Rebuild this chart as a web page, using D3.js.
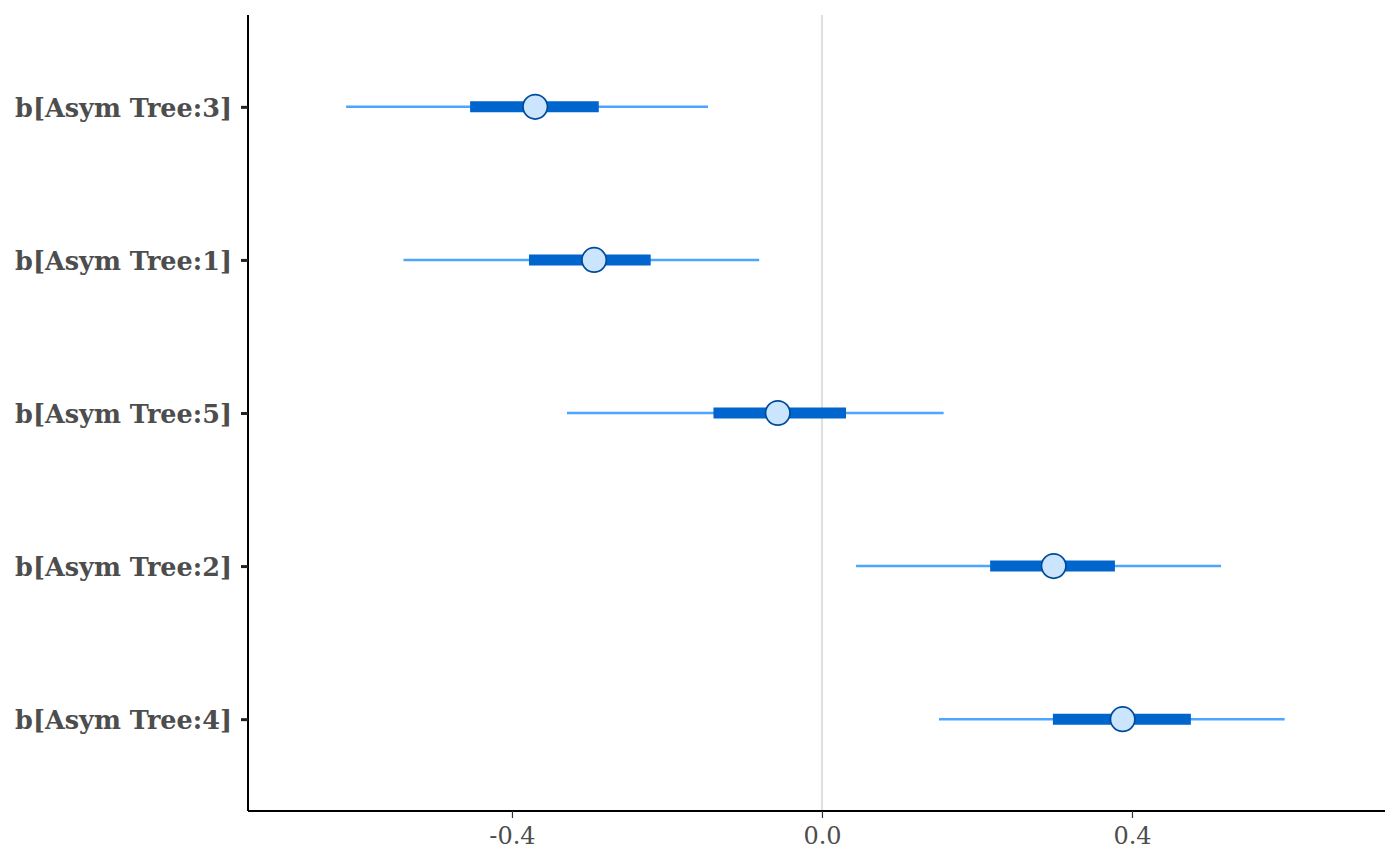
<!DOCTYPE html>
<html>
<head>
<meta charset="utf-8">
<script src="https://cdn.jsdelivr.net/npm/d3@7"></script>
<style>
  body { margin: 0; background: #fff; }
</style>
</head>
<body>
<div id="chart"></div>
<script>
var params = ["b[Asym Tree:3]", "b[Asym Tree:1]", "b[Asym Tree:5]", "b[Asym Tree:2]", "b[Asym Tree:4]"];
var medians = [-0.370, -0.294, -0.057, 0.299, 0.388];
var innerLow = [-0.454, -0.378, -0.140, 0.217, 0.298];
var innerHigh = [-0.288, -0.221, 0.031, 0.378, 0.476];
var outerLow = [-0.614, -0.540, -0.329, 0.044, 0.151];
var outerHigh = [-0.147, -0.081, 0.157, 0.515, 0.597];
var xTicks = [-0.4, 0.0, 0.4];

var width = 1400,
    height = 866;
var margin = { top: 15, right: 15, bottom: 55, left: 248 };

var rows = params.map(function(p, i) {
  return { name: p, m: medians[i], il: innerLow[i], ih: innerHigh[i], ol: outerLow[i], oh: outerHigh[i] };
});

var svg = d3.select("#chart")
  .append("svg")
    .attr("width", width)
    .attr("height", height);

var x = d3.scaleLinear()
  .domain([-0.7406, 0.7265])
  .range([margin.left, width - margin.right]);

// ggplot style discrete expansion (0.6 of a step each side)
var y = d3.scalePoint()
  .domain(params)
  .range([margin.top, height - margin.bottom])
  .padding(0.6);

// reference line at zero
svg.append("line")
  .attr("x1", x(0)).attr("x2", x(0))
  .attr("y1", margin.top).attr("y2", height - margin.bottom)
  .attr("stroke", "#e0e0e0")
  .attr("stroke-width", 2.2);

var g = svg.selectAll("g.row")
  .data(rows)
  .enter()
    .append("g")
    .attr("class", "row");

g.append("line")
  .attr("x1", function(d) { return x(d.ol); })
  .attr("x2", function(d) { return x(d.oh); })
  .attr("y1", function(d) { return y(d.name); })
  .attr("y2", function(d) { return y(d.name); })
  .attr("stroke", "#4ca5ff")
  .attr("stroke-width", 2.5);

g.append("line")
  .attr("x1", function(d) { return x(d.il); })
  .attr("x2", function(d) { return x(d.ih); })
  .attr("y1", function(d) { return y(d.name); })
  .attr("y2", function(d) { return y(d.name); })
  .attr("stroke", "#0065cc")
  .attr("stroke-width", 11);

g.append("circle")
  .attr("cx", function(d) { return x(d.m); })
  .attr("cy", function(d) { return y(d.name); })
  .attr("r", 12.2)
  .attr("fill", "#cce5ff")
  .attr("stroke", "#004c99")
  .attr("stroke-width", 1.7);

// axes
var xAxis = d3.axisBottom(x)
  .tickValues(xTicks)
  .tickSize(7)
  .tickSizeOuter(0);

var xg = svg.append("g")
  .attr("transform", "translate(0," + (height - margin.bottom) + ")")
  .call(xAxis);
xg.select(".domain").attr("stroke", "#000").attr("stroke-width", 2)
  .attr("d", "M" + margin.left + ",0H" + (width - margin.right));
xg.selectAll(".tick line").attr("stroke", "#333").attr("stroke-width", 1.2);
xg.selectAll(".tick text")
  .attr("dy", "0.71em")
  .attr("y", 16)
  .attr("fill", "#4d4d4d")
  .attr("font-family", "DejaVu Serif")
  .attr("font-size", "24px")
  .text(function(d) { return d3.format(".1f")(d).replace("\u2212", "-"); });

var yAxis = d3.axisLeft(y)
  .tickSize(7)
  .tickSizeOuter(0);

var yg = svg.append("g")
  .attr("transform", "translate(" + margin.left + ",0)")
  .call(yAxis);
yg.select(".domain").attr("stroke", "#000").attr("stroke-width", 2)
  .attr("d", "M0," + margin.top + "V" + (height - margin.bottom));
yg.selectAll(".tick line").attr("stroke", "#222").attr("stroke-width", 3);
yg.selectAll(".tick text")
  .attr("x", -16)
  .attr("dy", "0.38em")
  .attr("fill", "#4d4d4d")
  .attr("font-family", "DejaVu Serif")
  .attr("font-weight", "bold")
  .attr("font-size", "25.5px");
</script>
</body>
</html>
